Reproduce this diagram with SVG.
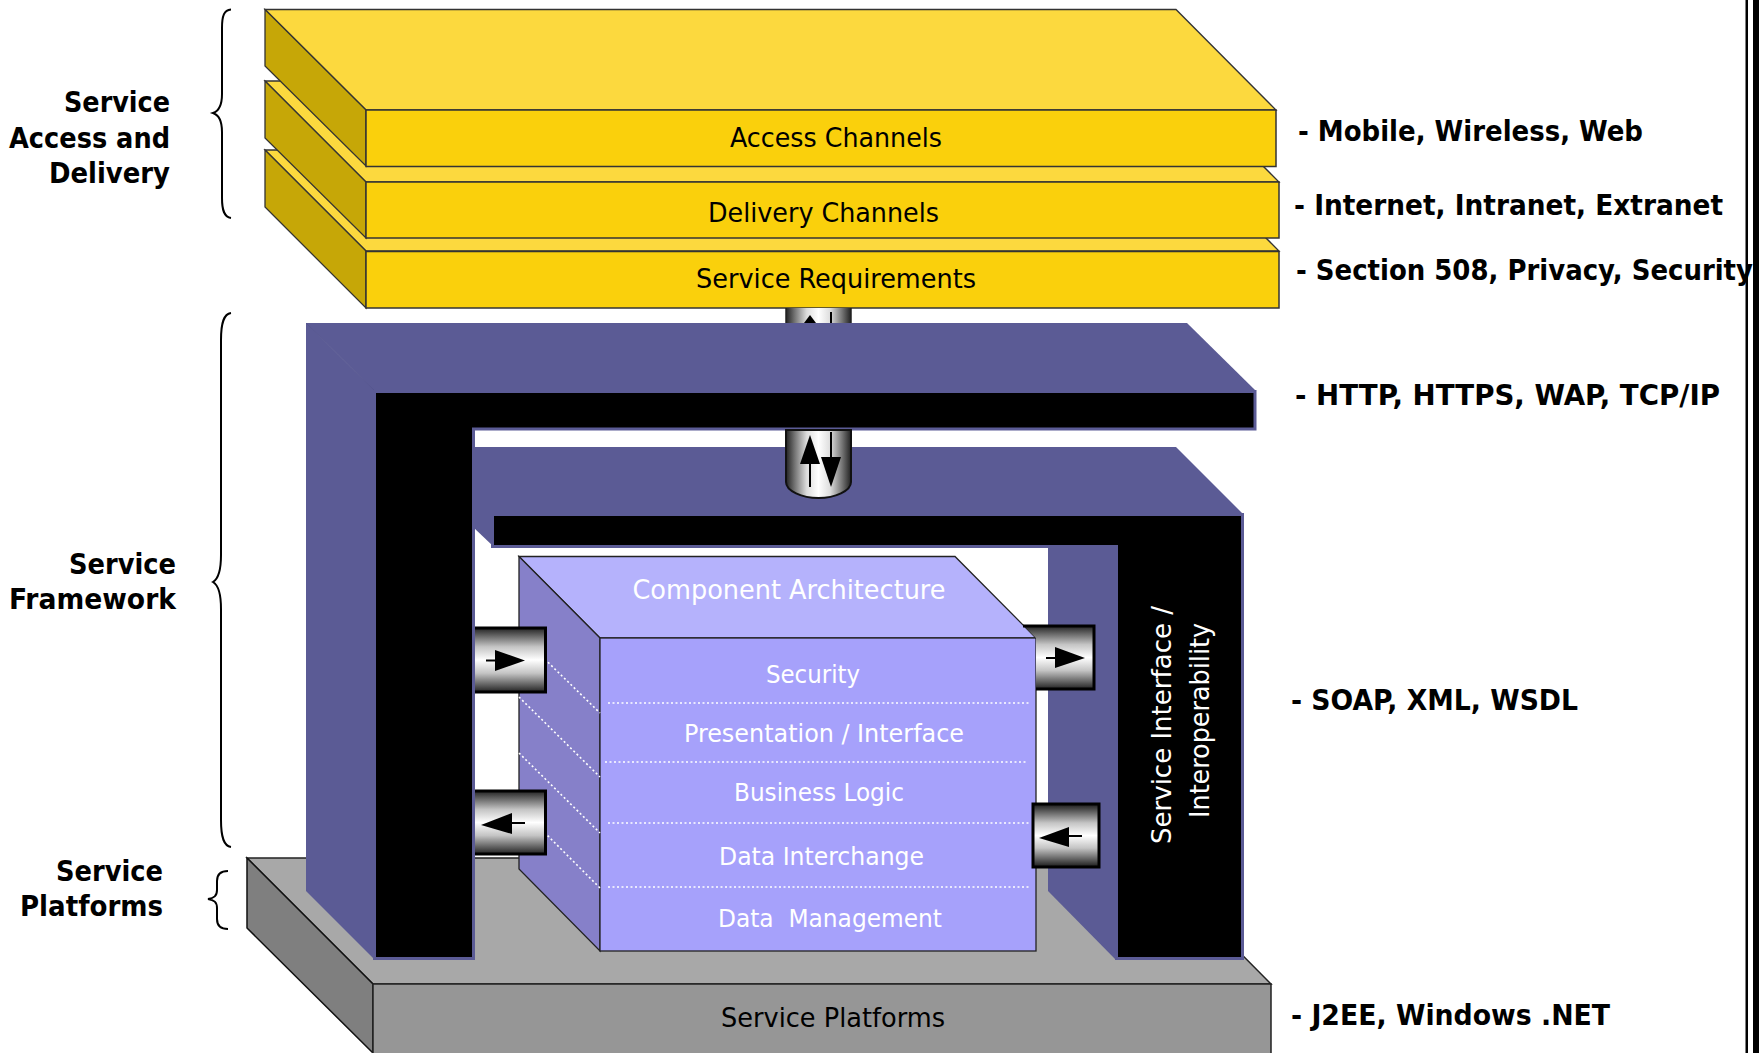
<svg xmlns="http://www.w3.org/2000/svg" width="1759" height="1053" viewBox="0 0 1759 1053">
<style>
text{font-family:"DejaVu Sans Condensed","DejaVu Sans","Liberation Sans",sans-serif}
.b{font-size:29px;font-weight:700;fill:#000}
.l{font-size:27px;fill:#000}
.w{font-size:27px;fill:#fff}
.s{font-size:25px;fill:#fff}
.ot{fill:#fcd93e;stroke:#333;stroke-width:1.3}
.of{fill:#fad00c;stroke:#333;stroke-width:1.5}
.os{fill:#c6a707;stroke:#333;stroke-width:1.3}
.bl{fill:#5b5b95}
.dot{stroke:#fff;stroke-width:1.6;stroke-dasharray:2 2.5;fill:none}
.br{fill:none;stroke:#000;stroke-width:2}
.edge{stroke:#000;stroke-width:3;fill:none}
.ah{fill:#000}
.sh{stroke:#000;stroke-width:2;fill:none}
</style>
<defs>
<linearGradient id="gv" x1="0" y1="0" x2="0" y2="1"><stop offset="0" stop-color="#1a1a1a"/><stop offset=".14" stop-color="#6a6a6a"/><stop offset=".3" stop-color="#c4c4c4"/><stop offset=".5" stop-color="#fff"/><stop offset=".7" stop-color="#c4c4c4"/><stop offset=".86" stop-color="#6a6a6a"/><stop offset="1" stop-color="#1a1a1a"/></linearGradient>
<linearGradient id="gh" x1="0" y1="0" x2="1" y2="0"><stop offset="0" stop-color="#222"/><stop offset=".14" stop-color="#777"/><stop offset=".32" stop-color="#ddd"/><stop offset=".5" stop-color="#fff"/><stop offset=".68" stop-color="#ddd"/><stop offset=".86" stop-color="#777"/><stop offset="1" stop-color="#222"/></linearGradient>
</defs>
<g id="page-border"><rect x="1745.500" y="0" width="2.500" height="1053" fill="#000"/><rect x="1753" y="0" width="6" height="1053" fill="#000"/></g>
<g id="braces">
<path class="br" d="M231 9.500C224 10 222 16 222 28V94C222 106 219 111 213 113C219 115 222 120 222 132V198C222 210 224 217 231 218"/>
<path class="br" d="M231 313C224 314 221 322 221 340V555C221 572 218 579 213 582C218 585 221 592 221 609V820C221 838 224 846 231 847"/>
<path class="br" d="M228 871C221 871 217 874 217 881V890C217 896 214 898 208 899C214 900 217 902 217 908V919C217 926 221 929 228 929"/>
</g>
<g id="service-platforms">
<polygon points="247,858 1146,858 1271,984 373,984" fill="#a8a8a8" stroke="#222" stroke-width="1.5"/>
<polygon points="247,858 373,984 373,1053 247,928" fill="#7f7f7f" stroke="#111" stroke-width="1.5"/>
<rect x="373" y="984" width="898" height="72" fill="#969696" stroke="#222" stroke-width="1.5"/>
<text class="l" x="721" y="1027" textLength="224" lengthAdjust="spacingAndGlyphs">Service Platforms</text>
</g>
<g id="service-requirements">
<polygon class="ot" points="265,150 1178,150 1279,251 366,251"/>
<polygon class="os" points="265,150 366,251 366,308 265,207"/>
<rect class="of" x="366" y="251.500" width="913" height="56.500"/>
<text class="l" x="696" y="288" textLength="280" lengthAdjust="spacingAndGlyphs">Service Requirements</text>
</g>
<g id="delivery-channels">
<polygon class="ot" points="265,81 1178,81 1279,182 366,182"/>
<polygon class="os" points="265,81 366,182 366,238 265,138"/>
<rect class="of" x="366" y="182" width="913" height="56"/>
<text class="l" x="708" y="222" textLength="231" lengthAdjust="spacingAndGlyphs">Delivery Channels</text>
</g>
<g id="access-channels">
<polygon class="ot" points="265,9.500 1176,9.500 1276,110 366,110"/>
<polygon class="os" points="265,9.500 366,110 366,166 265,66"/>
<rect class="of" x="366" y="110" width="910" height="56.500"/>
<text class="l" x="730" y="147" textLength="212" lengthAdjust="spacingAndGlyphs">Access Channels</text>
</g>
<g id="service-interface">
<polygon class="bl" points="473,447 1176,447 1243,514 1243,547 494,547 473,527"/>
<polygon class="bl" points="1048,540 1120,540 1120,960 1116,960 1048,891"/>
<polygon fill="#000" stroke="#5b5b95" stroke-width="3" points="1242.500,514.500 1242.500,958.500 1116.500,958.500 1116.500,546.500 492.500,546.500 492.500,514.500"/>
<text class="w" transform="translate(1171 844) rotate(-90)" textLength="238" lengthAdjust="spacingAndGlyphs">Service Interface /</text>
<text class="w" transform="translate(1209 818) rotate(-90)" textLength="195" lengthAdjust="spacingAndGlyphs">Interoperability</text>
</g>
<g id="transport-frame">
<polygon class="bl" points="306,323 1187,323 1256,391 375,391"/>
<polygon class="bl" points="306,323 375,391 375,960 306,891"/>
<line x1="306" y1="323" x2="375" y2="391" stroke="#55558f" stroke-width="1"/>
<polygon fill="#000" stroke="#5b5b95" stroke-width="3" points="374.500,391.500 1255,391.500 1255,429 473.500,429 473.500,958.500 374.500,958.500"/>
</g>
<g id="component-architecture">
<polygon points="519,556.500 955,556.500 1036,638 600,638" fill="#b5b2fc" stroke="#222" stroke-width="1.300"/>
<polygon points="519,556.500 600,638 600,951 519,869" fill="#8680c9" stroke="#222" stroke-width="1.300"/>
<rect x="600" y="638" width="436" height="313" fill="#a6a1fb" stroke="#222" stroke-width="1.300"/>
<path class="dot" d="M608 703H1029M605 762H1027M608 823H1029M608 887H1029"/>
<path class="dot" d="M519 634L600 713M519 697L600 777M519 753L600 833M519 807L600 888"/>
<text class="s" x="632.500" y="599" style="font-size:27px" textLength="313" lengthAdjust="spacingAndGlyphs">Component Architecture</text>
<text class="s" x="766" y="683" textLength="94" lengthAdjust="spacingAndGlyphs">Security</text>
<text class="s" x="684" y="742" textLength="280" lengthAdjust="spacingAndGlyphs">Presentation / Interface</text>
<text class="s" x="734" y="801" textLength="170" lengthAdjust="spacingAndGlyphs">Business Logic</text>
<text class="s" x="719" y="865" textLength="205" lengthAdjust="spacingAndGlyphs">Data Interchange</text>
<text class="s" x="718" y="927" textLength="224" lengthAdjust="spacingAndGlyphs" xml:space="preserve">Data  Management</text>
</g>
<g id="connectors">
<rect x="786" y="308" width="65" height="15" fill="url(#gh)"/>
<path d="M786 308V323M851 308V323" stroke="#222" stroke-width="1.500"/>
<polygon class="ah" points="810,315 804,323 816,323"/>
<path class="sh" d="M831 312V323"/>
<path d="M786 430V482C786 491 802 498 818.500 498C835 498 851 491 851 482V430Z" fill="url(#gh)" stroke="#111" stroke-width="2"/>
<path class="sh" d="M810 460V487"/><polygon class="ah" points="810,435 800,464 820,464"/>
<path class="sh" d="M831 432V460"/><polygon class="ah" points="831,487 821,457 841,457"/>
<rect x="475" y="627" width="71" height="66" fill="url(#gv)"/>
<path class="edge" d="M475 628H545.500V692H475"/>
<path class="sh" d="M486 660.500H497"/><polygon class="ah" points="525,660.500 495,650 495,671"/>
<rect x="475" y="790" width="71" height="65" fill="url(#gv)"/>
<path class="edge" d="M475 791H545.500V854H475"/>
<path class="sh" d="M510 823H525"/><polygon class="ah" points="481,825 512,813 512,834"/>
<polygon points="1023,625 1095,625 1095,690 1036,690 1036,638" fill="url(#gv)"/>
<path class="edge" d="M1023 626H1094V689H1036"/>
<path class="sh" d="M1046 658H1057"/><polygon class="ah" points="1085,658 1055,647 1055,668"/>
<rect class="edge" x="1033" y="804" width="66" height="63" style="fill:url(#gv)"/>
<path class="sh" d="M1067 836H1082"/><polygon class="ah" points="1039,838 1069,827 1069,847"/>
</g>
<g id="labels">
<text class="b" x="64" y="112" textLength="106" lengthAdjust="spacingAndGlyphs">Service</text>
<text class="b" x="9" y="148" textLength="161" lengthAdjust="spacingAndGlyphs">Access and</text>
<text class="b" x="49" y="183" textLength="121" lengthAdjust="spacingAndGlyphs">Delivery</text>
<text class="b" x="69" y="574" textLength="107" lengthAdjust="spacingAndGlyphs">Service</text>
<text class="b" x="9" y="609" textLength="167" lengthAdjust="spacingAndGlyphs">Framework</text>
<text class="b" x="56" y="881" textLength="107" lengthAdjust="spacingAndGlyphs">Service</text>
<text class="b" x="20" y="916" textLength="143" lengthAdjust="spacingAndGlyphs">Platforms</text>
<text class="b" x="1298" y="141" textLength="345" lengthAdjust="spacingAndGlyphs">- Mobile, Wireless, Web</text>
<text class="b" x="1294" y="215" textLength="429" lengthAdjust="spacingAndGlyphs">- Internet, Intranet, Extranet</text>
<text class="b" x="1296" y="280" textLength="457" lengthAdjust="spacingAndGlyphs">- Section 508, Privacy, Security</text>
<text class="b" x="1295" y="405" textLength="425" lengthAdjust="spacingAndGlyphs">- HTTP, HTTPS, WAP, TCP/IP</text>
<text class="b" x="1291" y="710" textLength="287" lengthAdjust="spacingAndGlyphs">- SOAP, XML, WSDL</text>
<text class="b" x="1291" y="1025" textLength="319" lengthAdjust="spacingAndGlyphs">- J2EE, Windows .NET</text>
</g>
</svg>
